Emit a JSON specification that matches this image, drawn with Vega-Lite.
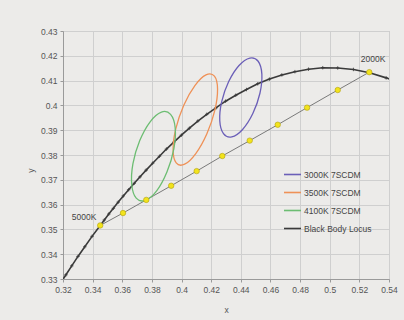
{
  "$schema": "https://vega.github.io/schema/vega-lite/v6.json",
  "width": 326,
  "height": 248,
  "autosize": "none",
  "padding": {"left": 63, "top": 31, "right": 15, "bottom": 41},
  "background": "#ecebe9",
  "config": {
    "font": "Liberation Sans",
    "view": {"stroke": "#bdbdbd", "strokeWidth": 1},
    "axis": {
      "labelFontSize": 8.5,
      "labelColor": "#555555",
      "labelOverlap": false,
      "labelFlush": false,
      "gridColor": "#cfcfcf",
      "gridWidth": 1,
      "domainColor": "#9a9a9a",
      "tickColor": "#9a9a9a",
      "tickSize": 3,
      "labelPadding": 3,
      "titleFontSize": 8.5,
      "titleFontWeight": "normal",
      "titleColor": "#555555"
    }
  },
  "datasets": {
    "locus": [
      {"T": 6200, "x": 0.3184, "y": 0.3284, "series": "Black Body Locus"},
      {"T": 6000, "x": 0.3220, "y": 0.3317, "series": "Black Body Locus"},
      {"T": 5800, "x": 0.3259, "y": 0.3353, "series": "Black Body Locus"},
      {"T": 5600, "x": 0.3301, "y": 0.3391, "series": "Black Body Locus"},
      {"T": 5400, "x": 0.3347, "y": 0.3430, "series": "Black Body Locus"},
      {"T": 5200, "x": 0.3396, "y": 0.3472, "series": "Black Body Locus"},
      {"T": 5000, "x": 0.3450, "y": 0.3515, "series": "Black Body Locus"},
      {"T": 4900, "x": 0.3479, "y": 0.3538, "series": "Black Body Locus"},
      {"T": 4800, "x": 0.3509, "y": 0.3562, "series": "Black Body Locus"},
      {"T": 4700, "x": 0.3540, "y": 0.3585, "series": "Black Body Locus"},
      {"T": 4600, "x": 0.3573, "y": 0.3610, "series": "Black Body Locus"},
      {"T": 4500, "x": 0.3607, "y": 0.3635, "series": "Black Body Locus"},
      {"T": 4400, "x": 0.3643, "y": 0.3660, "series": "Black Body Locus"},
      {"T": 4300, "x": 0.3681, "y": 0.3686, "series": "Black Body Locus"},
      {"T": 4200, "x": 0.3720, "y": 0.3712, "series": "Black Body Locus"},
      {"T": 4100, "x": 0.3761, "y": 0.3739, "series": "Black Body Locus"},
      {"T": 4000, "x": 0.3805, "y": 0.3767, "series": "Black Body Locus"},
      {"T": 3900, "x": 0.3851, "y": 0.3795, "series": "Black Body Locus"},
      {"T": 3800, "x": 0.3898, "y": 0.3824, "series": "Black Body Locus"},
      {"T": 3700, "x": 0.3948, "y": 0.3852, "series": "Black Body Locus"},
      {"T": 3600, "x": 0.3999, "y": 0.3880, "series": "Black Body Locus"},
      {"T": 3500, "x": 0.4053, "y": 0.3908, "series": "Black Body Locus"},
      {"T": 3400, "x": 0.4110, "y": 0.3937, "series": "Black Body Locus"},
      {"T": 3300, "x": 0.4170, "y": 0.3964, "series": "Black Body Locus"},
      {"T": 3200, "x": 0.4232, "y": 0.3990, "series": "Black Body Locus"},
      {"T": 3100, "x": 0.4297, "y": 0.4017, "series": "Black Body Locus"},
      {"T": 3000, "x": 0.4366, "y": 0.4041, "series": "Black Body Locus"},
      {"T": 2900, "x": 0.4438, "y": 0.4064, "series": "Black Body Locus"},
      {"T": 2800, "x": 0.4514, "y": 0.4087, "series": "Black Body Locus"},
      {"T": 2700, "x": 0.4593, "y": 0.4106, "series": "Black Body Locus"},
      {"T": 2600, "x": 0.4677, "y": 0.4123, "series": "Black Body Locus"},
      {"T": 2500, "x": 0.4765, "y": 0.4136, "series": "Black Body Locus"},
      {"T": 2400, "x": 0.4857, "y": 0.4146, "series": "Black Body Locus"},
      {"T": 2300, "x": 0.4953, "y": 0.4152, "series": "Black Body Locus"},
      {"T": 2200, "x": 0.5054, "y": 0.4151, "series": "Black Body Locus"},
      {"T": 2100, "x": 0.5160, "y": 0.4145, "series": "Black Body Locus"},
      {"T": 2000, "x": 0.5269, "y": 0.4132, "series": "Black Body Locus"},
      {"T": 1900, "x": 0.5381, "y": 0.4111, "series": "Black Body Locus"},
      {"T": 1800, "x": 0.5496, "y": 0.4084, "series": "Black Body Locus"}
    ],
    "ellipses": [
      {"series": "3000K 7SCDM", "i": 0, "x": 0.4517, "y": 0.4178},
      {"series": "3000K 7SCDM", "i": 1, "x": 0.4461, "y": 0.4191},
      {"series": "3000K 7SCDM", "i": 2, "x": 0.4388, "y": 0.4161},
      {"series": "3000K 7SCDM", "i": 3, "x": 0.4319, "y": 0.4097},
      {"series": "3000K 7SCDM", "i": 4, "x": 0.4271, "y": 0.4015},
      {"series": "3000K 7SCDM", "i": 5, "x": 0.4258, "y": 0.3938},
      {"series": "3000K 7SCDM", "i": 6, "x": 0.4283, "y": 0.3886},
      {"series": "3000K 7SCDM", "i": 7, "x": 0.4339, "y": 0.3873},
      {"series": "3000K 7SCDM", "i": 8, "x": 0.4412, "y": 0.3903},
      {"series": "3000K 7SCDM", "i": 9, "x": 0.4481, "y": 0.3967},
      {"series": "3000K 7SCDM", "i": 10, "x": 0.4529, "y": 0.4049},
      {"series": "3000K 7SCDM", "i": 11, "x": 0.4542, "y": 0.4126},
      {"series": "3500K 7SCDM", "i": 0, "x": 0.4222, "y": 0.4118},
      {"series": "3500K 7SCDM", "i": 1, "x": 0.4165, "y": 0.4123},
      {"series": "3500K 7SCDM", "i": 2, "x": 0.4090, "y": 0.4080},
      {"series": "3500K 7SCDM", "i": 3, "x": 0.4015, "y": 0.4001},
      {"series": "3500K 7SCDM", "i": 4, "x": 0.3961, "y": 0.3905},
      {"series": "3500K 7SCDM", "i": 5, "x": 0.3943, "y": 0.3820},
      {"series": "3500K 7SCDM", "i": 6, "x": 0.3964, "y": 0.3768},
      {"series": "3500K 7SCDM", "i": 7, "x": 0.4021, "y": 0.3763},
      {"series": "3500K 7SCDM", "i": 8, "x": 0.4096, "y": 0.3806},
      {"series": "3500K 7SCDM", "i": 9, "x": 0.4171, "y": 0.3886},
      {"series": "3500K 7SCDM", "i": 10, "x": 0.4225, "y": 0.3981},
      {"series": "3500K 7SCDM", "i": 11, "x": 0.4243, "y": 0.4066},
      {"series": "4100K 7SCDM", "i": 0, "x": 0.3926, "y": 0.3964},
      {"series": "4100K 7SCDM", "i": 1, "x": 0.3864, "y": 0.3973},
      {"series": "4100K 7SCDM", "i": 2, "x": 0.3788, "y": 0.3934},
      {"series": "4100K 7SCDM", "i": 3, "x": 0.3718, "y": 0.3858},
      {"series": "4100K 7SCDM", "i": 4, "x": 0.3672, "y": 0.3765},
      {"series": "4100K 7SCDM", "i": 5, "x": 0.3664, "y": 0.3680},
      {"series": "4100K 7SCDM", "i": 6, "x": 0.3694, "y": 0.3626},
      {"series": "4100K 7SCDM", "i": 7, "x": 0.3756, "y": 0.3617},
      {"series": "4100K 7SCDM", "i": 8, "x": 0.3832, "y": 0.3655},
      {"series": "4100K 7SCDM", "i": 9, "x": 0.3902, "y": 0.3732},
      {"series": "4100K 7SCDM", "i": 10, "x": 0.3948, "y": 0.3825},
      {"series": "4100K 7SCDM", "i": 11, "x": 0.3957, "y": 0.3910}
    ],
    "tieline": [
      {"x": 0.3451, "y": 0.3516},
      {"x": 0.3605, "y": 0.3566},
      {"x": 0.3762, "y": 0.3619},
      {"x": 0.3930, "y": 0.3676},
      {"x": 0.4102, "y": 0.3735},
      {"x": 0.4275, "y": 0.3796},
      {"x": 0.4460, "y": 0.3858},
      {"x": 0.4649, "y": 0.3922},
      {"x": 0.4847, "y": 0.3991},
      {"x": 0.5054, "y": 0.4062},
      {"x": 0.5267, "y": 0.4134}
    ],
    "labels": [
      {"label": "5000K", "x": 0.3342, "y": 0.3550},
      {"label": "2000K", "x": 0.5293, "y": 0.4189}
    ]
  },
  "layer": [
    {
      "data": {"name": "tieline"},
      "mark": {"type": "line", "color": "#7a7a7a", "strokeWidth": 1},
      "encoding": {
        "x": {"field": "x", "type": "quantitative", "scale": {"domain": [0.32, 0.54], "nice": false, "zero": false},
          "axis": {"values": [0.32, 0.34, 0.36, 0.38, 0.4, 0.42, 0.44, 0.46, 0.48, 0.5, 0.52, 0.54], "tickCount": 30, "format": "~g", "title": "x", "titlePadding": 12}},
        "y": {"field": "y", "type": "quantitative", "scale": {"domain": [0.33, 0.43], "nice": false, "zero": false},
          "axis": {"values": [0.33, 0.34, 0.35, 0.36, 0.37, 0.38, 0.39, 0.4, 0.41, 0.42, 0.43], "tickCount": 30, "format": "~g", "title": "y", "titleX": -33, "titleY": 139, "titleAngle": 270, "titleBaseline": "middle"}}
      }
    },
    {
      "data": {"name": "locus"},
      "mark": {"type": "line", "clip": true, "strokeWidth": 1.6},
      "encoding": {
        "x": {"field": "x", "type": "quantitative"},
        "y": {"field": "y", "type": "quantitative"},
        "order": {"field": "x", "type": "quantitative"},
        "color": {"field": "series", "type": "nominal"}
      }
    },
    {
      "data": {"name": "locus"},
      "mark": {"type": "point", "clip": true, "shape": "M-1,0H1M0,-1V1", "filled": false, "stroke": "#3a3a3a", "strokeWidth": 0.8, "size": 12, "opacity": 1},
      "encoding": {
        "x": {"field": "x", "type": "quantitative"},
        "y": {"field": "y", "type": "quantitative"}
      }
    },
    {
      "data": {"name": "ellipses"},
      "mark": {"type": "line", "interpolate": "cardinal-closed", "strokeWidth": 1.3},
      "encoding": {
        "x": {"field": "x", "type": "quantitative"},
        "y": {"field": "y", "type": "quantitative"},
        "order": {"field": "i", "type": "quantitative"},
        "color": {
          "field": "series", "type": "nominal",
          "scale": {"domain": ["3000K 7SCDM", "3500K 7SCDM", "4100K 7SCDM", "Black Body Locus"], "range": ["#6b5fb8", "#ef9157", "#6cbd72", "#3a3a3a"]},
          "legend": {"title": null, "orient": "none", "legendX": 220, "legendY": 134, "symbolType": "stroke", "symbolSize": 289, "symbolStrokeWidth": 1.6, "labelFontSize": 8.5, "labelColor": "#444444", "rowPadding": 4, "labelOffset": 2}
        }
      }
    },
    {
      "data": {"name": "tieline"},
      "mark": {"type": "point", "filled": true, "fill": "#f2e31c", "stroke": "#b0a010", "strokeWidth": 0.6, "size": 30, "opacity": 1},
      "encoding": {
        "x": {"field": "x", "type": "quantitative"},
        "y": {"field": "y", "type": "quantitative"}
      }
    },
    {
      "data": {"name": "labels"},
      "mark": {"type": "text", "fontSize": 8.5, "color": "#444444"},
      "encoding": {
        "x": {"field": "x", "type": "quantitative"},
        "y": {"field": "y", "type": "quantitative"},
        "text": {"field": "label"}
      }
    }
  ]
}
